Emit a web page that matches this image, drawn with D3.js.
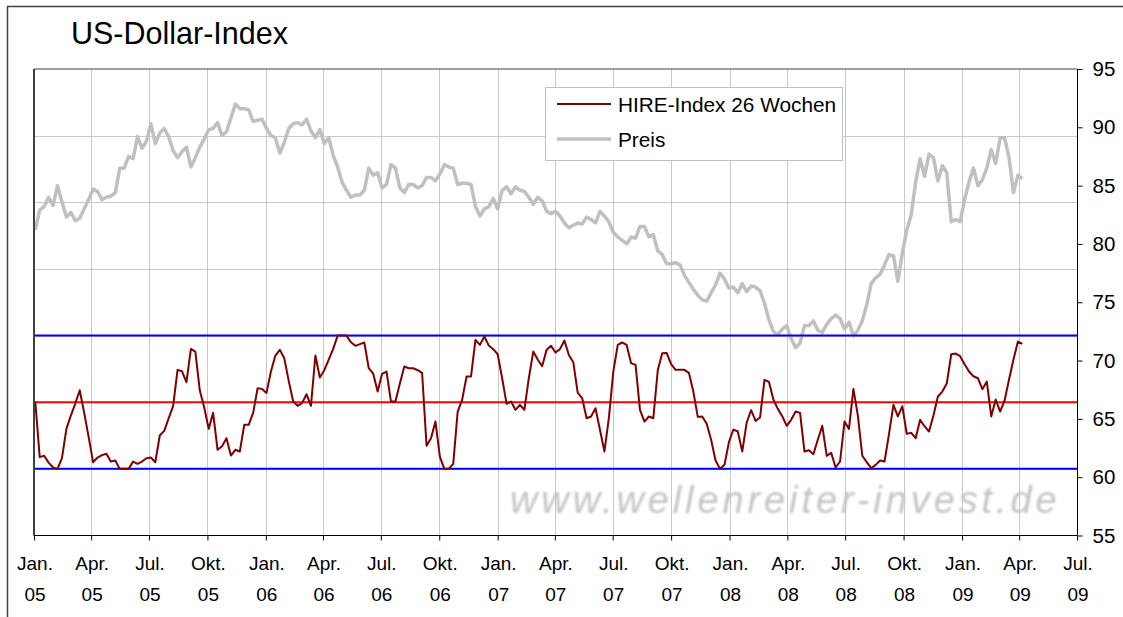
<!DOCTYPE html>
<html>
<head>
<meta charset="utf-8">
<script src="https://cdn.jsdelivr.net/npm/d3@7"></script>
<style>
  body { margin: 0; background: #fff; }
  text { font-family: "Liberation Sans", Arial, sans-serif; }
</style>
</head>
<body>
<script>
// weekly series, first week starting Monday 3 Jan 2005
var firstWeek = "2005-01-03";

// US-Dollar-Index price (right axis)
var preis = [81.2,82.9,83.2,84.0,83.3,85.0,83.6,82.3,82.7,82.0,
             82.2,83.0,83.8,84.7,84.5,83.8,84.0,84.1,84.4,86.5,
             86.5,87.5,87.3,89.2,88.2,88.8,90.3,88.6,89.5,89.9,
             89.2,88.0,87.4,87.9,88.3,86.6,87.4,88.3,89.0,89.8,
             89.9,90.4,89.3,89.6,90.8,92.0,91.6,91.6,91.5,90.5,
             90.6,90.7,89.9,89.3,89.1,87.8,88.7,89.9,90.3,90.4,
             90.2,90.7,89.7,89.1,89.8,88.6,89.1,87.6,86.6,85.3,
             84.6,84.0,84.2,84.2,84.6,86.5,85.9,86.1,84.8,85.1,
             86.8,86.5,84.8,84.4,85.1,85.1,84.8,85.0,85.7,85.7,
             85.4,86.0,86.8,86.6,86.5,85.1,85.2,85.2,85.1,83.2,
             82.4,83.0,83.2,83.9,83.0,84.6,84.9,84.3,84.9,84.6,
             84.5,84.0,83.4,84.0,83.7,82.8,82.6,82.8,82.4,81.8,
             81.4,81.6,81.8,81.7,82.3,82.1,81.8,82.8,82.4,81.9,
             81.0,80.6,80.3,80.0,80.6,80.5,81.5,81.5,80.6,80.8,
             79.4,79.1,78.3,78.3,78.4,78.2,77.3,76.7,76.1,75.6,
             75.2,75.1,75.8,76.5,77.5,77.0,76.2,76.3,75.8,76.6,
             75.9,76.4,76.3,76.0,74.9,73.5,72.5,72.2,72.7,73.0,
             71.9,71.1,71.5,73.0,73.0,73.4,72.6,72.4,73.1,73.6,
             73.9,73.6,72.7,73.3,72.1,72.6,73.4,74.8,76.6,77.1,
             77.4,78.2,79.1,79.0,76.8,79.2,81.2,82.5,85.3,87.3,
             85.8,87.7,87.4,85.4,86.7,86.1,81.9,82.1,81.9,83.8,
             85.3,86.5,85.0,85.5,86.5,88.1,86.9,89.1,89.1,87.4,
             84.4,85.9,85.6];

// HIRE-Index 26 Wochen (0..100, hidden primary axis)
var hire = [50.5,8.8,9.8,4.7,1.0,0,8,30,40,49,
            59,42,24,5,8.5,10.3,11.3,5.5,6.2,0,
            0,0,5.5,3.8,5.5,8,8.5,5,25,28.5,
            38,47,74.3,73.2,65,90,88,58.7,46,30,
            42,14.3,17,23,10,14.3,13,33,33,42,
            60.5,60,57,73,85,89.3,83,66,50.5,47.3,
            49.3,56,47.3,85,68.5,74,82,90,100,100,
            100,95,92.3,93.6,94.8,75.5,71.5,58,71.3,73,
            50.5,50.5,64,76.8,75.5,75.5,74,72,17.3,23,
            35.5,9,0,0,3.8,43,51.8,69.3,69.3,96.8,
            93,99.3,92.5,89.8,86,68,48.8,50.5,44.3,48,
            44.3,68,88,82,77,89.3,92.3,87.3,89.8,96.3,
            85.5,80,57,53,38,39.3,45.5,29.3,13,38,
            73,93,94.8,93,79.3,78,44.3,35.5,39.3,38,
            74,86.8,87,78.5,74.3,74.3,74.3,72,58,39,
            39.3,33.8,21.8,6.2,0,3,20,29.5,28,13,
            34.8,44,36,38.5,66.8,65.3,52,45,39.5,32.3,
            36.8,43,42,13,14,11,22,32.3,9.8,12,
            1,5.5,35.5,30,60,40,9.8,5,0.5,3,
            6.2,5.5,26,48,39.3,47,26.3,27,23,36.8,
            32,28,40,54.3,58,64,86,86.5,84.5,78.5,
            73,69.5,68,59.8,65.5,39.3,52,43,51.3,67,
            82,95.5,93.8];

// horizontal marker lines of the HIRE index
var hireBands = [0, 100];
var hireMid = 50;

var rightTicks = [55, 60, 65, 70, 75, 80, 85, 90, 95];
var monthNames = {0: "Jan.", 3: "Apr.", 6: "Jul.", 9: "Okt."};

var W = 1123, H = 617;
var plot = {left: 34, right: 1077, top: 69, bottom: 535.5};

var svg = d3.select("body").append("svg")
    .attr("width", W).attr("height", H);

// outer frame (open to the right and bottom)
svg.append("path")
    .attr("d", "M7.5," + H + "V6.5H" + W)
    .attr("fill", "none").attr("stroke", "#404040").attr("stroke-width", 1.5);

svg.append("text")
    .attr("x", 71).attr("y", 43.5)
    .attr("font-size", 30.5)
    .text("US-Dollar-Index");

var parseDate = d3.timeParse("%Y-%m-%d");
var start = parseDate(firstWeek);
var dates = d3.range(preis.length).map(function(i) { return d3.timeWeek.offset(start, i); });

var x = d3.scaleTime()
    .domain([new Date(2005, 0, 1), new Date(2009, 6, 1)])
    .range([plot.left, plot.right]);
var yR = d3.scaleLinear().domain([55, 95]).range([plot.bottom, plot.top]);
var yH = d3.scaleLinear().domain([-50, 300]).range([plot.bottom, plot.top]);

var quarters = d3.timeMonth.every(3).range(new Date(2005, 0, 1), new Date(2009, 6, 2));

// gridlines
var grid = svg.append("g").attr("stroke", "#c8c8c8").attr("stroke-width", 1);
grid.selectAll(".v").data(quarters.slice(1, -1)).enter().append("line")
    .attr("x1", function(d) { return Math.round(x(d)) + 0.5; })
    .attr("x2", function(d) { return Math.round(x(d)) + 0.5; })
    .attr("y1", plot.top).attr("y2", plot.bottom);
grid.selectAll(".h").data(yH.ticks(7).filter(function(t) { return t > -50 && t < 300; }))
    .enter().append("line")
    .attr("x1", plot.left).attr("x2", plot.right)
    .attr("y1", function(d) { return Math.round(yH(d)) + 0.5; })
    .attr("y2", function(d) { return Math.round(yH(d)) + 0.5; });

// watermark
var defs = svg.append("defs");
defs.append("filter").attr("id", "soft")
    .append("feGaussianBlur").attr("stdDeviation", 0.9);
svg.append("text")
    .attr("x", 510).attr("y", 513)
    .attr("font-size", 38).attr("font-style", "italic")
    .attr("letter-spacing", 3.9)
    .attr("fill", "#c4c4c4")
    .attr("filter", "url(#soft)")
    .text("www.wellenreiter-invest.de");

// price line
var linePreis = d3.line()
    .x(function(d, i) { return x(dates[i]); })
    .y(function(d) { return yR(d); });
svg.append("path").datum(preis)
    .attr("d", linePreis)
    .attr("fill", "none").attr("stroke", "#c0c0c0")
    .attr("stroke-width", 3.5).attr("stroke-linejoin", "round");

// band lines
svg.selectAll(".band").data(hireBands).enter().append("line")
    .attr("x1", plot.left).attr("x2", plot.right)
    .attr("y1", function(d) { return yH(d); }).attr("y2", function(d) { return yH(d); })
    .attr("stroke", "#0000ff").attr("stroke-width", 2);
svg.append("line")
    .attr("x1", plot.left).attr("x2", plot.right)
    .attr("y1", yH(hireMid)).attr("y2", yH(hireMid))
    .attr("stroke", "#ff0000").attr("stroke-width", 2);

// HIRE line
var lineHire = d3.line()
    .x(function(d, i) { return x(dates[i]); })
    .y(function(d) { return yH(d); });
svg.append("path").datum(hire)
    .attr("d", lineHire)
    .attr("fill", "none").attr("stroke", "#800000")
    .attr("stroke-width", 2).attr("stroke-linejoin", "round");

// plot frame
svg.append("line").attr("x1", plot.left).attr("x2", plot.right)
    .attr("y1", plot.top).attr("y2", plot.top)
    .attr("stroke", "#808080").attr("stroke-width", 1.5);
svg.append("line").attr("x1", plot.left).attr("x2", plot.left)
    .attr("y1", plot.top).attr("y2", plot.bottom)
    .attr("stroke", "#404040").attr("stroke-width", 2);

// right axis
var axisR = d3.axisRight(yR).tickValues(rightTicks).tickSize(5).tickPadding(10);
var gR = svg.append("g")
    .attr("transform", "translate(" + (plot.right + 0.5) + ",0)")
    .call(axisR);
gR.select(".domain").attr("d", "M0," + plot.top + "V" + plot.bottom);
gR.selectAll("text").attr("font-size", 20.5).attr("font-family", "Liberation Sans, Arial, sans-serif")
    .attr("fill", "#000");

// bottom axis
var axisB = d3.axisBottom(x).tickValues(quarters).tickSize(5).tickFormat("");
var gB = svg.append("g")
    .attr("transform", "translate(0," + (plot.bottom) + ")")
    .call(axisB);
gB.select(".domain").attr("d", "M" + plot.left + ",0H" + plot.right);

var lbl = svg.append("g").attr("font-size", 19).attr("text-anchor", "middle");
quarters.forEach(function(d) {
    var cx = x(d) + 1;
    lbl.append("text").attr("x", cx).attr("y", 569.5).text(monthNames[d.getMonth()]);
    lbl.append("text").attr("x", cx).attr("y", 601).text(d3.timeFormat("%y")(d));
});

// legend
var lg = svg.append("g");
lg.append("rect").attr("x", 545.5).attr("y", 87.5).attr("width", 297).attr("height", 73)
    .attr("fill", "#fff").attr("stroke", "#c0c0c0");
lg.append("line").attr("x1", 557).attr("x2", 611).attr("y1", 104).attr("y2", 104)
    .attr("stroke", "#800000").attr("stroke-width", 2);
lg.append("line").attr("x1", 557).attr("x2", 611).attr("y1", 139).attr("y2", 139)
    .attr("stroke", "#c0c0c0").attr("stroke-width", 3.5);
lg.append("text").attr("x", 618).attr("y", 111.5).attr("font-size", 20.8).text("HIRE-Index 26 Wochen");
lg.append("text").attr("x", 618).attr("y", 146.5).attr("font-size", 20.8).text("Preis");
</script>
</body>
</html>
